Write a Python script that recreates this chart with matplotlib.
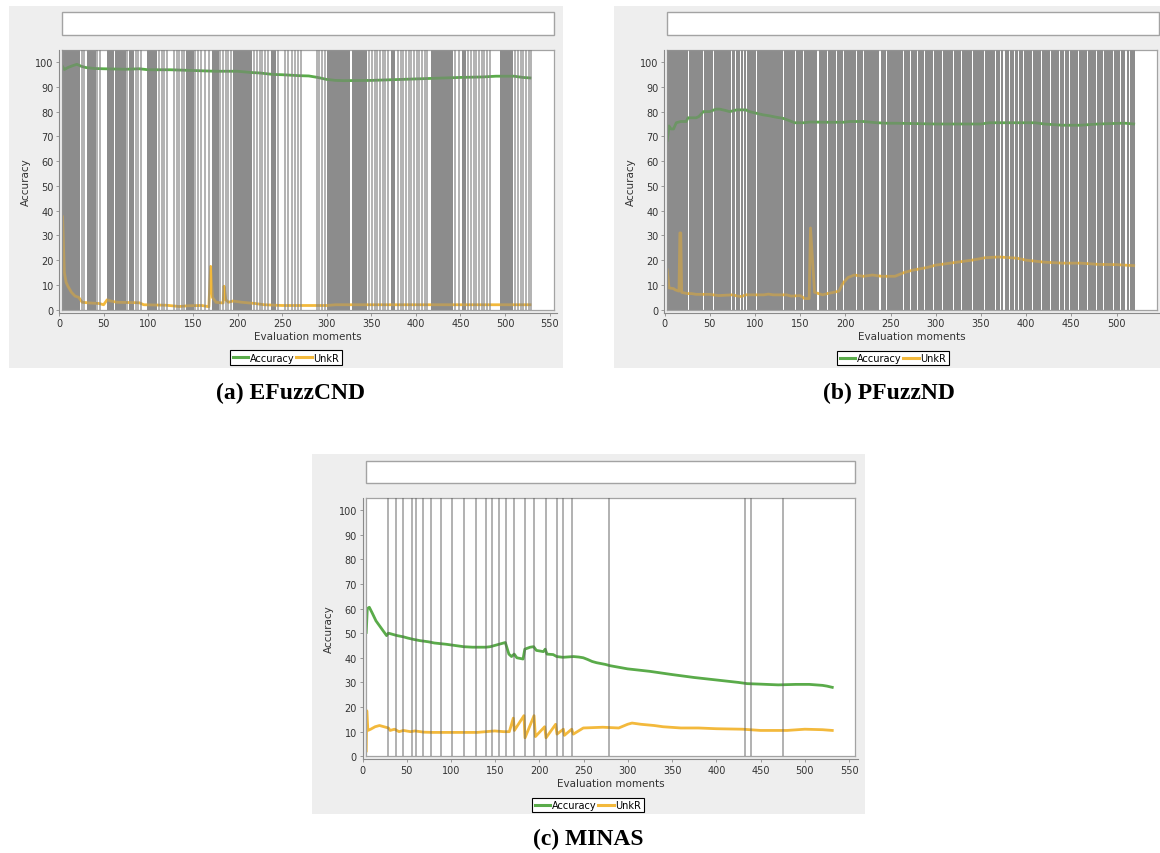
import numpy as np
import matplotlib.pyplot as plt
from matplotlib.patches import Rectangle

W, H = 1160, 854

GREEN = '#5aab4a'
YELLOW = '#f3b93c'
MARK = '#808080'
UNDER = '#9a9a9a'
BG = '#eeeeee'
EDGE = '#a3a3a3'

# ---- (a) EFuzzCND ----
acc_a_x = [4, 6, 10, 15, 20, 25, 30, 40, 50, 75, 90, 100, 125, 150, 175, 200, 215, 225,
           240, 250, 270, 280, 290, 300, 310, 320, 350, 375, 400, 425, 450, 475, 490, 510, 520, 528]
acc_a_y = [98.2, 97.0, 97.8, 98.5, 99.1, 98.3, 97.8, 97.4, 97.3, 97.1, 97.3, 96.9, 96.9, 96.6,
           96.3, 96.3, 95.8, 95.6, 95.0, 94.9, 94.5, 94.4, 93.8, 93.0, 92.6, 92.5, 92.6, 92.9,
           93.2, 93.5, 93.8, 94.0, 94.3, 94.3, 93.8, 93.6]
unk_a_x = [4, 6, 8, 10, 14, 18, 22, 26, 35, 45, 50, 54, 58, 65, 90, 95, 120, 135, 145, 160,
           168, 170, 172, 176, 184, 185, 187, 190, 195, 205, 220, 230, 250, 300, 310, 528]
unk_a_y = [37.5, 15, 11, 9.5, 7, 5.5, 5, 3, 2.7, 2.5, 2.0, 4.0, 3.5, 3.0, 2.8, 2.0, 1.8, 1.3,
           1.6, 1.7, 1.2, 17.5, 5, 3, 2.7, 9.5, 4, 3, 3.5, 3, 2.5, 2, 1.7, 1.7, 2.0, 2.0]
# novelty markers: dense runs and single moments
marks_a_runs = [(3.8, 24), (31, 41), (54, 62), (63, 75), (79, 84), (99, 110), (142, 151),
                (171, 179), (195, 216), (238, 243), (301, 326), (329, 345), (372, 377),
                (417, 442), (452, 456), (494, 509)]
marks_a_single = [25.5, 28.5, 43, 46, 76.5, 86, 89, 91.5, 112, 115, 118, 121, 129, 132, 135,
                  138, 140.5, 153, 156, 159, 164, 168, 181, 184, 187, 190, 193, 219, 222,
                  225, 228, 231, 234, 245.5, 253, 257, 261, 265, 268, 271, 289, 292, 295,
                  298, 347.5, 351, 354, 357, 360, 363, 366, 369, 380, 383, 386, 389, 392,
                  395, 398, 401, 404, 407, 410, 413, 444.5, 448, 459, 462, 465, 468, 471,
                  474, 477, 480, 483, 511.5, 514.5, 517.5, 520.5, 523.5, 526.5, 529]

# ---- (b) PFuzzND ----
acc_b_x = [3, 5, 7, 10, 13, 18, 24, 26, 35, 38, 43, 50, 57, 61, 67, 72, 80, 90, 94, 102,
           109, 116, 124, 131, 137, 144, 154, 161, 180, 198, 205, 220, 235, 246, 257, 300,
           350, 360, 410, 420, 440, 460, 480, 505, 510, 519]
acc_b_y = [68.4, 74.2, 73, 73, 75.5, 76, 76, 77.5, 77.5, 78, 80, 80, 81, 81, 80.5, 80, 80.7,
           80.7, 80, 79.3, 78.7, 78.3, 77.7, 77.3, 76.5, 75.5, 75.5, 75.8, 75.7, 75.7, 76, 76,
           75.5, 75.3, 75.3, 75, 75, 75.5, 75.5, 75, 74.5, 74.5, 75, 75.3, 75.3, 75]
unk_b_x = [3, 5, 10, 12, 16, 17, 18, 19, 25, 30, 35, 50, 60, 75, 80, 85, 90, 110, 115, 120,
           135, 140, 150, 155, 160, 161.5, 166, 175, 180, 187, 193, 197, 203, 210, 220, 230,
           240, 255, 265, 275, 290, 300, 320, 340, 355, 370, 390, 400, 420, 440, 460, 480,
           500, 519]
unk_b_y = [16.1, 8.8, 8.5, 8, 7.5, 31, 31, 7, 6.5, 6.5, 6.2, 6.2, 5.7, 6, 5.6, 5.3, 6, 6,
           6.3, 6, 6, 5.5, 5.7, 4.5, 4.5, 33, 7, 6, 6.5, 7, 7.5, 10.5, 13, 14, 13.5, 14, 13.5,
           13.5, 15, 16, 17, 18, 19, 20, 21, 21.3, 20.8, 20, 19.2, 18.8, 18.8, 18.3, 18.2, 17.8]
# markers cover nearly every moment; these are the moments left without one
marks_b_range = (3.1, 520.5)
marks_b_gaps = [26.4, 34.8, 42.9, 50.3, 54, 61.4, 66.9, 74.3, 76.9, 78.8, 84.3, 87.2, 90.9,
                94.6, 101.9, 110.1, 116.7, 123.3, 131.4, 137.7, 145.1, 153.6, 160.9, 180.1,
                190.4, 197.8, 205.2, 212.6, 220, 227.3, 245.8, 255, 264.2, 272, 280, 288,
                297.7, 307.5, 319.2, 329, 340.7, 354.4, 366.1, 372, 381.7, 387.6, 391.5,
                397.4, 407.2, 417, 426.7, 436.5, 442.3, 448.2, 458, 467.8, 477.5, 485.3, 497,
                504.8, 514.5]
marks_b_wide_gaps = [170.2, 238.4, 375.9, 510.6]

# ---- (c) MINAS ----
acc_c_x = [5.0, 6.2, 8.5, 12, 16, 20, 24, 28, 30, 35, 40, 47, 52, 58, 65, 75, 82, 95, 105, 115,
           125, 140, 145, 150, 155, 162, 166, 169, 172, 175, 182, 184, 190, 194, 197, 205,
           207, 209, 216, 220, 227, 239, 245, 250, 255, 260, 265, 275, 280, 300, 325, 350,
           375, 400, 425, 435, 450, 470, 490, 505, 520, 525, 531]
acc_c_y = [50.3, 60, 60.5, 58, 55, 53, 51, 49, 50, 49.5, 49, 48.5, 48, 47.5, 47, 46.5, 46,
           45.5, 45, 44.5, 44.3, 44.3, 44.5, 45, 45.5, 46.2, 41.5, 40.5, 41.5, 40, 39.5, 43.5,
           44.3, 44.5, 43, 42.5, 43.5, 41.5, 41.3, 40.5, 40.2, 40.5, 40.3, 40, 39.3, 38.5, 38,
           37.3, 36.8, 35.5, 34.5, 33.2, 32, 31, 30, 29.5, 29.3, 29, 29.2, 29.2, 28.8, 28.5, 28]
unk_c_x = [5.0, 5.6, 6.9, 10, 15, 20, 25, 30, 32, 37, 42, 47, 55, 60, 70, 80, 130, 140, 150,
           160, 166.5, 171, 172.2, 183, 184.2, 194.4, 195.9, 206.4, 207.9, 218.8, 220.3, 227.5,
           228.6, 236.9, 238.7, 250, 272, 290, 300, 305, 315, 330, 340, 360, 380, 400, 430,
           450, 480, 500, 520, 531]
unk_c_y = [2.2, 18.5, 10.5, 11, 12, 12.5, 12, 11.5, 10.5, 11, 10, 10.5, 10, 10.3, 9.8, 9.7,
           9.7, 10, 10.3, 10, 10, 15.5, 10.5, 16.5, 7.5, 16.5, 8, 12, 7.5, 13, 9, 11, 8.5, 11,
           9, 11.5, 11.8, 11.5, 13, 13.5, 13, 12.5, 12, 11.5, 11.5, 11.2, 11, 10.5, 10.5, 11,
           10.8, 10.5]
marks_c = [29.9, 38.2, 46.1, 57.0, 61.2, 69.1, 78.1, 89.0, 102.2, 115.7, 128.9, 140.2,
           147.0, 154.9, 162.4, 172.2, 183.8, 194.4, 207.5, 219.9, 227.5, 237.2, 278.5,
           432.0, 439.3, 475.6]

fig = plt.figure(figsize=(W / 100, H / 100), dpi=100)
fig.patch.set_facecolor('white')


def box(x0, y0, x1, y1):
    # pixel box (top-left origin) -> figure fraction rect
    return [x0 / W, 1 - y1 / H, (x1 - x0) / W, (y1 - y0) / H]


def fig_rect(x0, y0, x1, y1, **kw):
    l, b, w, h = box(x0, y0, x1, y1)
    fig.add_artist(Rectangle((l, b), w, h, transform=fig.transFigure, **kw))


def shade(ax, s, e):
    # a run of overlapping markers: solid grey under the series, translucent grey over it
    ax.axvspan(s, e, color=UNDER, lw=0, zorder=1)
    ax.axvspan(s, e, color=MARK, alpha=0.5, lw=0, zorder=3)


def panel(bg, title, frame, zero_px, ppu, series, legend_at, caption, caption_at, xticks):
    fig_rect(*bg, facecolor=BG, edgecolor='none', zorder=-2)
    fig_rect(*title, facecolor='white', edgecolor=EDGE, lw=1.0, zorder=-1)

    xmin = (frame[0] - zero_px) / ppu
    xmax = (frame[2] - zero_px) / ppu
    ppy = (frame[3] - frame[1]) / 105.0

    ax = fig.add_axes(box(*frame))
    ax.set_xlim(xmin, xmax)
    ax.set_ylim(0, 105)
    ax.set_xticks([])
    ax.set_yticks([])
    for sp in ax.spines.values():
        sp.set_color(EDGE)
        sp.set_linewidth(0.9)

    (acc_x, acc_y), (unk_x, unk_y) = series
    h1, = ax.plot(acc_x, acc_y, color=GREEN, lw=2.0, zorder=2, label='Accuracy')
    h2, = ax.plot(unk_x, unk_y, color=YELLOW, lw=2.0, zorder=2, label='UnkR')

    leg = ax.legend(handles=[h1, h2], loc='center', ncol=2,
                    bbox_to_anchor=(legend_at[0] / W, 1 - legend_at[1] / H),
                    bbox_transform=fig.transFigure, fontsize=7, frameon=True,
                    fancybox=False, framealpha=1, edgecolor='black', borderpad=0.25,
                    handlelength=1.6, handletextpad=0.15, columnspacing=0.2,
                    borderaxespad=0)
    leg.get_frame().set_linewidth(0.8)
    for ln in leg.get_lines():
        ln.set_linewidth(2.2)

    # axis lines sit a few pixels off the data area
    axx = fig.add_axes(box(frame[0] - 3, frame[1], frame[2] + 3, frame[3] + 3))
    axx.patch.set_visible(False)
    axx.set_xlim(xmin - 3 / ppu, xmax + 3 / ppu)
    axx.set_ylim(-3 / ppy, 105)
    axx.spines['top'].set_visible(False)
    axx.spines['right'].set_visible(False)
    for s in ('left', 'bottom'):
        axx.spines[s].set_color('#8a8a8a')
        axx.spines[s].set_linewidth(0.8)
    axx.set_xticks(xticks)
    axx.set_yticks(np.arange(0, 101, 10))
    axx.tick_params(length=2, width=0.6, color='#8a8a8a', labelsize=7,
                    labelcolor='#333333', pad=2)
    axx.set_xlabel('Evaluation moments', fontsize=7.5, color='#333333', labelpad=2)
    axx.set_ylabel('Accuracy', fontsize=7.5, color='#333333', labelpad=3)

    fig.text(caption_at[0] / W, 1 - caption_at[1] / H, caption, ha='center', va='center',
             family='Liberation Serif', weight='bold', fontsize=17)
    return ax


# (a)
ax_a = panel((9, 7, 563, 369), (62.3, 13.3, 553.7, 36.3), (62.3, 50.7, 553.7, 310.7),
             59.0, 0.892, [(acc_a_x, acc_a_y), (unk_a_x, unk_a_y)], (286, 358.5),
             '(a) EFuzzCND', (291, 393), np.arange(0, 551, 50))
for s, e in marks_a_runs:
    shade(ax_a, s, e)
for x in marks_a_single:
    ax_a.axvline(x, color=MARK, alpha=0.7, lw=1.2, zorder=3)

# (b)
ax_b = panel((614, 7, 1160, 369), (667.3, 13.3, 1158.5, 36.3), (667.3, 50.7, 1157.3, 310.7),
             664.5, 0.904, [(acc_b_x, acc_b_y), (unk_b_x, unk_b_y)], (893, 359),
             '(b) PFuzzND', (889, 393), np.arange(0, 501, 50))
gaps = sorted([(g, 0.5) for g in marks_b_gaps] + [(g, 1.0) for g in marks_b_wide_gaps])
start = marks_b_range[0]
for g, hw in gaps:
    shade(ax_b, start, g - hw)
    start = g + hw
shade(ax_b, start, marks_b_range[1])

# (c)
ax_c = panel((312.3, 455, 864.7, 815.3), (365.5, 461.7, 855.3, 484), (365.5, 498.7, 855.3, 757.3),
             361.8, 0.886, [(acc_c_x, acc_c_y), (unk_c_x, unk_c_y)], (588, 806),
             '(c) MINAS', (588, 839), np.arange(0, 551, 50))
for x in marks_c:
    ax_c.axvline(x, color='#5c5c5c', alpha=0.6, lw=1.1, zorder=3)

fig.savefig('out.png', dpi=100)
